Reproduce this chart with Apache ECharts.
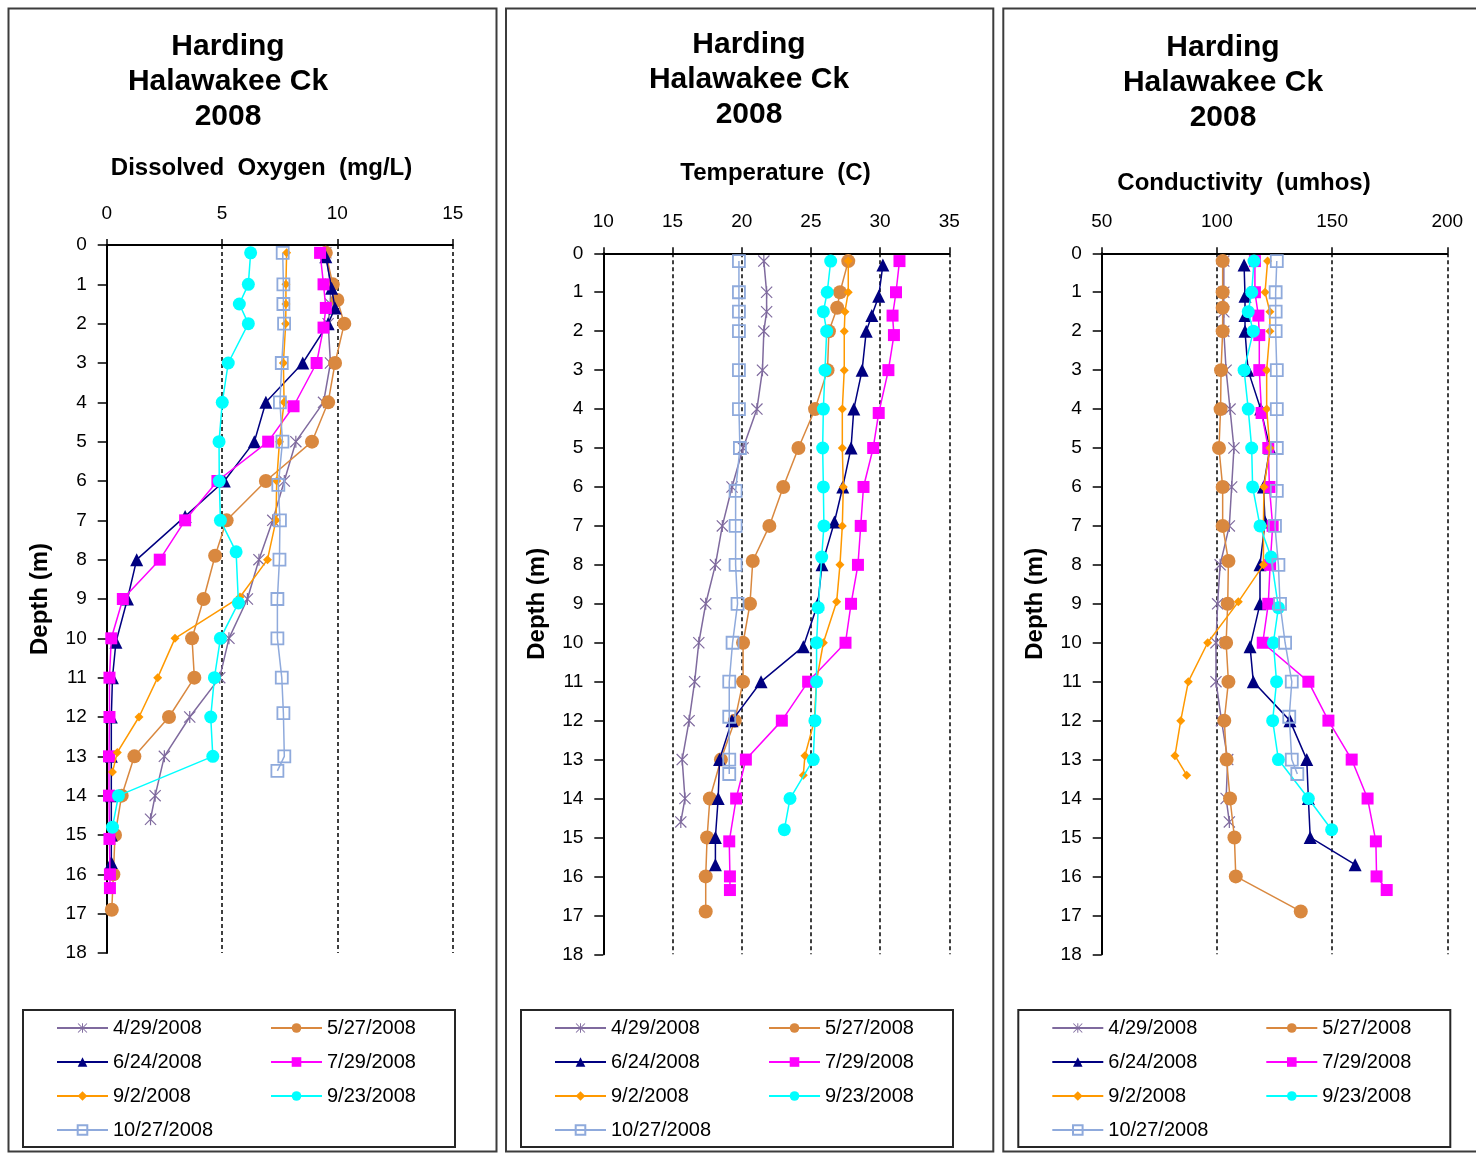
<!DOCTYPE html>
<html>
<head>
<meta charset="utf-8">
<script src="https://cdn.jsdelivr.net/npm/echarts@6/dist/echarts.min.js"></script>
<style>
html,body{margin:0;padding:0;background:#fff;}
#chart{width:1476px;height:1156px;}
</style>
</head>
<body>
<div id="chart"></div>
<script>
// ---------- DATA ----------
const dates = ['4/29/2008','5/27/2008','6/24/2008','7/29/2008','9/2/2008','9/23/2008','10/27/2008'];

// depths (m) per sampling date
const depth0429 = [0.2,1,1.5,2,3,4,5,6,7,8,9,10,11,12,13,14,14.6];
const depth0527 = [0.2,1,1.4,2,3,4,5,6,7,7.9,9,10,11,12,13,14,15,16,16.9];
const depth0624 = [0.3,1.1,1.6,2,3,4,5,6,6.9,8,9,10.1,11,12,13,14,15,15.7];
const depth0729 = [0.2,1,1.6,2.1,3,4.1,5,6,7,8,9,10,11,12,13,14,15.1,16,16.35];
const depth0902 = [0.2,1,1.5,2,3,4,5,6,7,8,8.95,10,11,12,12.9,13.4];
const depth0923 = [0.2,1,1.5,2,3,4,5,6,7,7.8,9.1,10,11,12,13,14,14.8];
const depth1027 = [0.2,1,1.5,2,3,4,5,6.1,7,8,9,10,11,11.9,13,13.37];

// Dissolved oxygen (mg/L)
const do0429 = [9.5,9.7,9.7,9.6,9.7,9.4,8.2,7.7,7.2,6.6,6.1,5.3,4.9,3.6,2.5,2.1,1.9];
const do0527 = [9.5,9.8,10.0,10.3,9.9,9.6,8.9,6.9,5.2,4.7,4.2,3.7,3.8,2.7,1.2,0.65,0.36,0.29,0.22];
const do0624 = [9.5,9.75,9.9,9.6,8.5,6.9,6.4,5.1,3.4,1.3,0.9,0.4,0.25,0.2,0.2,0.2,0.2,0.2];
const do0729 = [9.25,9.4,9.5,9.4,9.1,8.1,7.0,4.8,3.4,2.3,0.7,0.2,0.12,0.12,0.1,0.1,0.12,0.14,0.14];
const do0902 = [7.8,7.77,7.77,7.76,7.66,7.69,7.49,7.37,7.34,6.97,5.78,2.96,2.21,1.4,0.46,0.25];
const do0923 = [6.24,6.14,5.75,6.14,5.27,5.01,4.87,4.88,4.93,5.61,5.71,4.93,4.67,4.51,4.6,0.51,0.25];
const do1027 = [7.63,7.66,7.66,7.69,7.59,7.51,7.62,7.44,7.51,7.49,7.4,7.4,7.59,7.66,7.7,7.4];

// Temperature (C)
const temp0429 = [21.6,21.8,21.8,21.6,21.5,21.1,20.1,19.3,18.6,18.1,17.4,16.9,16.6,16.2,15.7,15.9,15.6];
const temp0527 = [27.7,27.1,26.9,26.3,26.2,25.3,24.1,23.0,22.0,20.8,20.6,20.1,20.1,19.5,18.5,17.7,17.5,17.4,17.4];
const temp0624 = [30.2,29.9,29.4,29.0,28.7,28.1,27.9,27.3,26.7,25.8,25.5,24.45,21.4,19.3,18.4,18.3,18.1,18.1];
const temp0729 = [31.4,31.15,30.9,31.0,30.6,29.9,29.5,28.8,28.6,28.4,27.9,27.5,24.8,22.9,20.3,19.6,19.1,19.15,19.15];
const temp0902 = [27.7,27.7,27.46,27.41,27.41,27.27,27.27,27.34,27.27,27.1,26.86,25.9,25.4,25.25,24.57,24.45];
const temp0923 = [26.43,26.18,25.9,26.14,26.02,25.9,25.85,25.9,25.94,25.78,25.53,25.41,25.41,25.29,25.17,23.49,23.08];
const temp1027 = [19.8,19.8,19.8,19.8,19.8,19.8,19.87,19.56,19.56,19.56,19.7,19.34,19.1,19.1,19.1,19.1];

// Conductivity (umhos)
const cond0429 = [103,103,103,103,104,105.7,107.4,106.4,105.4,101.4,100.3,99.6,99.6,102,104.7,104,105.4];
const cond0527 = [102.5,102.5,102.5,102.5,101.8,101.6,100.9,102.5,102.5,105,104.7,104,105,103.2,104.2,105.7,107.6,108.2,136.4];
const cond0624 = [111.8,112.2,112.2,112.2,113.5,119,123,120.2,120.9,118.7,118.7,114.4,115.8,131.7,139,139.7,140.5,160];
const cond0729 = [116.5,116.5,118,118.4,118.4,119.4,122.3,122.8,124.2,123.1,122.3,119.9,139.7,148.4,158.5,165.4,169,169.3,173.7];
const cond0902 = [122,120.9,123,123,121.6,121.6,123,120.4,120.2,120.2,109.3,96,87.6,84.3,81.8,86.9];
const cond0923 = [116.1,115.1,113.6,115.8,111.8,113.6,115.1,115.5,118.7,123.5,126.7,124.5,125.9,124.2,126.7,139.7,149.8];
const cond1027 = [126,125.5,125.5,125.5,126,126,126,126,125.2,126.7,127.4,129.6,132.5,131.4,132.5,134.9];

// axis ticks
const doTicks = {min:0, max:15, interval:5};
const tempTicks = {min:10, max:35, interval:5};
const condTicks = {min:50, max:200, interval:50};
const depthTicks = {min:0, max:18, interval:1};

const titleText = 'Harding\nHalawakee Ck\n2008';
const panelNames = ['Dissolved  Oxygen  (mg/L)', 'Temperature  (C)', 'Conductivity  (umhos)'];

// ---------- STYLE ----------
const FONT = '"Liberation Sans", Arial, sans-serif';
const starPath = 'path://M9,0 L11,0 L11,20 L9,20 Z M0,1.4 L1.4,0 L20,18.6 L18.6,20 Z M18.6,0 L20,1.4 L1.4,20 L0,18.6 Z';
const seriesStyle = [
  {color:'#7F6A9E', symbol:starPath, size:12},
  {color:'#D9883F', symbol:'circle', size:14},
  {color:'#000080', symbol:'triangle', size:13},
  {color:'#FF00FF', symbol:'rect', size:12},
  {color:'#FF9900', symbol:'diamond', size:9},
  {color:'#00FFFF', symbol:'circle', size:13},
  {color:'#8FAADC', symbol:'rect', size:12, hollow:true}
];

const depthSets = [depth0429, depth0527, depth0624, depth0729, depth0902, depth0923, depth1027];
const panelValues = [
  [do0429, do0527, do0624, do0729, do0902, do0923, do1027],
  [temp0429, temp0527, temp0624, temp0729, temp0902, temp0923, temp1027],
  [cond0429, cond0527, cond0624, cond0729, cond0902, cond0923, cond1027]
];
const panelTicks = [doTicks, tempTicks, condTicks];

const grids = [
  {left:106.7, top:245, width:346, height:708},
  {left:603.3, top:253.3, width:346, height:701},
  {left:1101.7, top:253.3, width:345.6, height:701}
];
const titlePos = [
  {x:228, y:29.5, sx:261.5, sy:156},
  {x:749, y:27, sx:775.5, sy:161},
  {x:1223, y:30.5, sx:1244, sy:171}
];
const framePos = [{x:8.5,w:488},{x:506,w:487.3},{x:1003.3,w:480}];
const legendPos = [{x:23, lx:56},{x:521, lx:554},{x:1018.3, lx:1051.3}];

const option = {
  animation:false,
  backgroundColor:'#fff',
  textStyle:{fontFamily:FONT},
  title:[], grid:[], xAxis:[], yAxis:[], series:[], legend:[], graphic:[]
};

for (let p = 0; p < 3; p++) {
  option.grid.push(Object.assign({containLabel:false}, grids[p]));
  option.title.push({
    text:titleText, left:titlePos[p].x, top:titlePos[p].y, textAlign:'center', padding:0,
    textStyle:{fontFamily:FONT, fontSize:30, fontWeight:'bold', color:'#000', lineHeight:35}
  });
  option.title.push({
    text:panelNames[p], left:titlePos[p].sx, top:titlePos[p].sy, textAlign:'center', padding:0,
    textStyle:{fontFamily:FONT, fontSize:24, fontWeight:'bold', color:'#000', lineHeight:24}
  });
  option.xAxis.push({
    type:'value', gridIndex:p, position:'top',
    min:panelTicks[p].min, max:panelTicks[p].max, interval:panelTicks[p].interval,
    axisLine:{show:true, lineStyle:{color:'#000', width:2}},
    axisTick:{show:true, inside:false, length:6, lineStyle:{color:'#000', width:1.5}},
    axisLabel:{fontFamily:FONT, fontSize:19, color:'#000', margin:22},
    splitLine:{show:true, lineStyle:{color:'#000', width:1.5, type:[4,3]}}
  });
  option.yAxis.push({
    type:'value', gridIndex:p, inverse:true,
    min:depthTicks.min, max:depthTicks.max, interval:depthTicks.interval,
    name:'Depth (m)', nameLocation:'middle', nameGap:54,
    nameTextStyle:{fontFamily:FONT, fontSize:24, fontWeight:'bold', color:'#000'},
    axisLine:{show:true, lineStyle:{color:'#000', width:2}},
    axisTick:{show:true, inside:false, length:9, lineStyle:{color:'#000', width:1.5}},
    axisLabel:{fontFamily:FONT, fontSize:19, color:'#000', margin:20},
    splitLine:{show:false}
  });
  for (let s = 0; s < 7; s++) {
    const st = seriesStyle[s];
    const vals = panelValues[p][s];
    const dep = depthSets[s];
    const data = vals.map((v, i) => [v, dep[i]]);
    option.series.push({
      type:'line', name:dates[s], xAxisIndex:p, yAxisIndex:p, data:data,
      symbol:st.symbol, symbolSize:st.size, clip:false,
      lineStyle:{color:st.color, width:1.5},
      itemStyle: st.hollow
        ? {color:'rgba(255,255,255,0)', borderColor:st.color, borderWidth:1.8}
        : {color:st.color, borderColor:st.color, borderWidth:0},
      emphasis:{disabled:true}, z:2+s
    });
  }
  option.legend.push({
    data:dates, left:legendPos[p].lx, top:1018, width:420, orient:'horizontal',
    itemWidth:51, itemHeight:12, itemGap:14, padding:0, selectedMode:false,
    textStyle:{fontFamily:FONT, fontSize:20, color:'#000', width:143, lineHeight:20}
  });
  option.graphic.push({
    type:'rect', shape:{x:framePos[p].x, y:8.5, width:framePos[p].w, height:1143},
    style:{fill:'none', stroke:'#3c3c3c', lineWidth:2}, silent:true, z:-1
  });
  option.graphic.push({
    type:'rect', shape:{x:legendPos[p].x, y:1010, width:432, height:137},
    style:{fill:'none', stroke:'#262626', lineWidth:2}, silent:true, z:-1
  });
}

const chart = echarts.init(document.getElementById('chart'), null, {renderer:'canvas'});
chart.setOption(option);
</script>
</body>
</html>
